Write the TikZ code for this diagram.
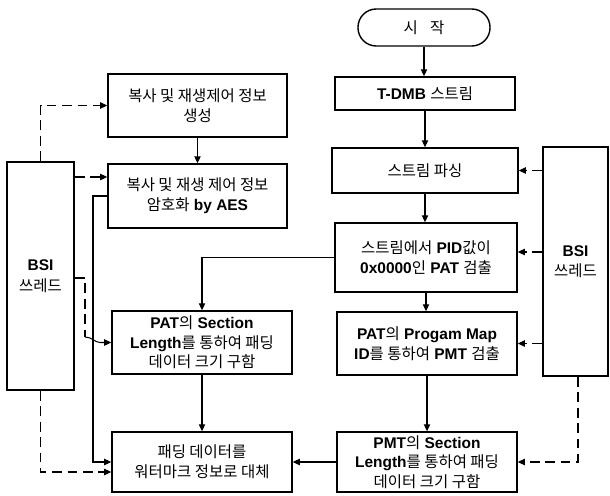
\documentclass[tikz,border=0pt]{standalone}
\usepackage{fontspec}
\setmainfont{Liberation Sans}
\newfontfamily\krfont{Noto Sans CJK KR}
\newcommand\hg[1]{{\krfont\mdseries #1}}
\usetikzlibrary{arrows.meta,calc}
\begin{document}
\begin{tikzpicture}[x=0.025cm,y=-0.025cm,
 box/.style={draw,line width=1pt,rectangle,align=center,inner sep=1pt,font=\fontsize{11}{14.5}\selectfont\bfseries},
 tbox/.style={box,font=\fontsize{11}{14}\selectfont\bfseries},
 term/.style={box,rounded corners=13pt},
 arr/.style={line width=0.75pt,-{Triangle[length=5pt,width=4.5pt]}},
 darr/.style={arr,dash pattern=on 7pt off 4pt},
 dline/.style={line width=0.75pt,dash pattern=on 7pt off 4pt}]
\useasboundingbox (0,0) rectangle (610,495);

% right column
\node[term,minimum width=3.3cm,minimum height=0.925cm] (start) at (424,27.5) {\hg{시\hspace{0.8em}작}};
\node[box,minimum width=4.5cm,minimum height=0.825cm] (tdmb) at (425,93.5) {T-DMB \hg{스트림}};
\node[box,minimum width=4.65cm,minimum height=1.125cm] (parse) at (425,170.5) {\hg{스트림 파싱}};
\node[box,minimum width=4.55cm,minimum height=1.725cm] (pid) at (426,257.5) {\hg{스트림에서} PID\hg{값이}\\0x0000\hg{인} PAT \hg{검출}};
\node[box,minimum width=4.5cm,minimum height=1.575cm] (pmtdet) at (427,343.5) {PAT\hg{의} Progam Map\\ID\hg{를 통하여} PMT \hg{검출}};
\node[tbox,minimum width=4.5cm,minimum height=1.5cm] (pmtsec) at (427,462) {PMT\hg{의} Section\\Length\hg{를 통하여 패딩}\\\hg{데이터 크기 구함}};
\node[box,minimum width=1.625cm,minimum height=5.725cm] (rbsi) at (575.5,261.5) {BSI\\\hg{쓰레드}};

% left column
\node[box,minimum width=4.475cm,minimum height=1.575cm] (l1) at (197.5,105.5) {\hg{복사 및 재생제어 정보}\\\hg{생성}};
\node[box,minimum width=4.475cm,minimum height=1.6cm] (l2) at (197.5,196) {\hg{복사 및 재생 제어 정보}\\\hg{암호화} by AES};
\node[tbox,minimum width=4.5cm,minimum height=1.575cm] (l3) at (202,342.5) {PAT\hg{의} Section\\Length\hg{를 통하여 패딩}\\\hg{데이터 크기 구함}};
\node[box,minimum width=4.5cm,minimum height=1.5cm] (l4) at (202,462) {\hg{패딩 데이터를}\\\hg{워터마크 정보로 대체}};
\node[box,minimum width=1.675cm,minimum height=5.7cm] (lbsi) at (40.5,276) {BSI\\\hg{쓰레드}};

% helper coordinates
\coordinate (y252) at (0,252);
\coordinate (y177) at (0,177);
\coordinate (y278) at (0,278);
\coordinate (y472) at (0,472);
\coordinate (jx) at (93,0);
\coordinate (dbend) at (85,337);
\coordinate (hop) at (100,342.5);
\coordinate (rx) at (578,0);

% main flow
\draw[arr] (start.south) -- (start.south |- tdmb.north);
\draw[arr] (tdmb.south) -- (tdmb.south |- parse.north);
\draw[arr] (parse.south) -- (parse.south |- pid.north);
\draw[arr] (pid.south) -- (pid.south |- pmtdet.north);
\draw[arr] (pmtdet.south) -- (pmtdet.south |- pmtsec.north);
\draw[arr] (pid.west) -| (l3.north);
\draw[arr] (l1.south) -- (l1.south |- l2.north);
\draw[arr] (l3.south) -- (l3.south |- l4.north);
\draw[arr] (pmtsec.west) -- (l4.east);
\draw[arr] (l2.west) -- (l2.west -| jx) |- (l4.west);

% right BSI dashed
\draw[darr] (rbsi.west |- parse.east) -- (parse.east);
\draw[darr] (rbsi.west |- y252) -- (pid.east |- y252);
\draw[darr] (rbsi.west |- pmtdet.east) -- (pmtdet.east);
\draw[darr] (rbsi.south -| rx) |- (pmtsec.east);

% left BSI dashed
\draw[darr] (lbsi.north) |- (l1.west);
\draw[darr] (lbsi.east |- y177) -- (l2.west |- y177);
\draw[dline] (lbsi.east |- y278) -| (dbend);
\draw[arr] (dbend) .. controls (92,337) and (95,342.5) .. (hop) -- (l3.west);
\draw[darr] (lbsi.south) |- (l4.west |- y472);
\end{tikzpicture}
\end{document}
